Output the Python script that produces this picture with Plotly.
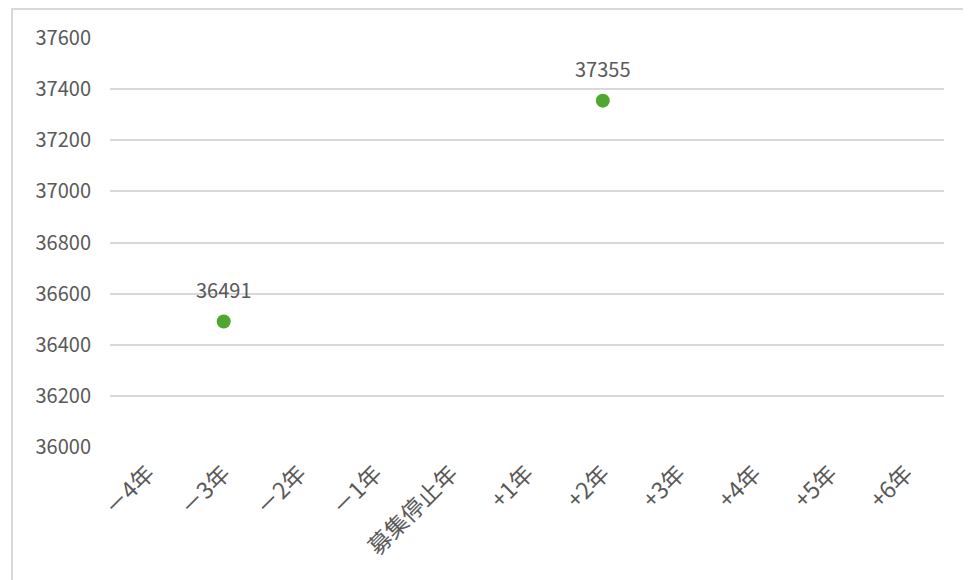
import plotly.graph_objects as go

categories = ["－4年", "－3年", "－2年", "－1年", "募集停止年", "+1年", "+2年", "+3年", "+4年", "+5年", "+6年"]
values = [None, 36491, None, None, None, None, 37355, None, None, None, None]
y_ticks = [36000, 36200, 36400, 36600, 36800, 37000, 37200, 37400, 37600]

FONT = "Noto Sans CJK JP"
TXT = "#595959"
GRID = "#d9d9d9"
GREEN = "#4ea72e"

fig = go.Figure()
fig.add_trace(go.Scatter(
    x=categories, y=values, mode="markers",
    marker=dict(size=14, color=GREEN),
    hoverinfo="x+y", showlegend=False,
))

for c, v in zip(categories, values):
    if v is not None:
        fig.add_annotation(x=c, y=v, text=str(v), showarrow=False, yshift=32,
                           font=dict(family=FONT, size=20, color=TXT))

# chart border (left & top visible, rest clipped by the window)
fig.add_shape(type="rect", xref="paper", yref="paper",
              x0=-0.1175, x1=1.2, y0=-0.5, y1=1.0709,
              line=dict(color=GRID, width=2), fillcolor="rgba(0,0,0,0)", layer="below")

fig.update_layout(
    width=963, height=572,
    margin=dict(l=102, r=27, t=30, b=133),
    paper_bgcolor="white", plot_bgcolor="white",
    font=dict(family=FONT, color=TXT),
    xaxis=dict(
        type="category", categoryorder="array", categoryarray=categories,
        range=[-0.5, len(categories) - 0.5],
        tickangle=-45, tickfont=dict(family=FONT, size=23, color=TXT),
        showgrid=False, zeroline=False, showline=False,
        ticks="outside", ticklen=3, tickcolor="rgba(0,0,0,0)",
    ),
    yaxis=dict(
        range=[36000, 37600], tickvals=y_ticks,
        ticktext=[str(t) for t in y_ticks],
        tickfont=dict(family=FONT, size=20, color=TXT),
        showgrid=True, gridcolor=GRID, gridwidth=2,
        zeroline=False, showline=False,
        ticks="outside", ticklen=14, tickcolor="rgba(0,0,0,0)",
    ),
)

fig.write_html("out.html")
